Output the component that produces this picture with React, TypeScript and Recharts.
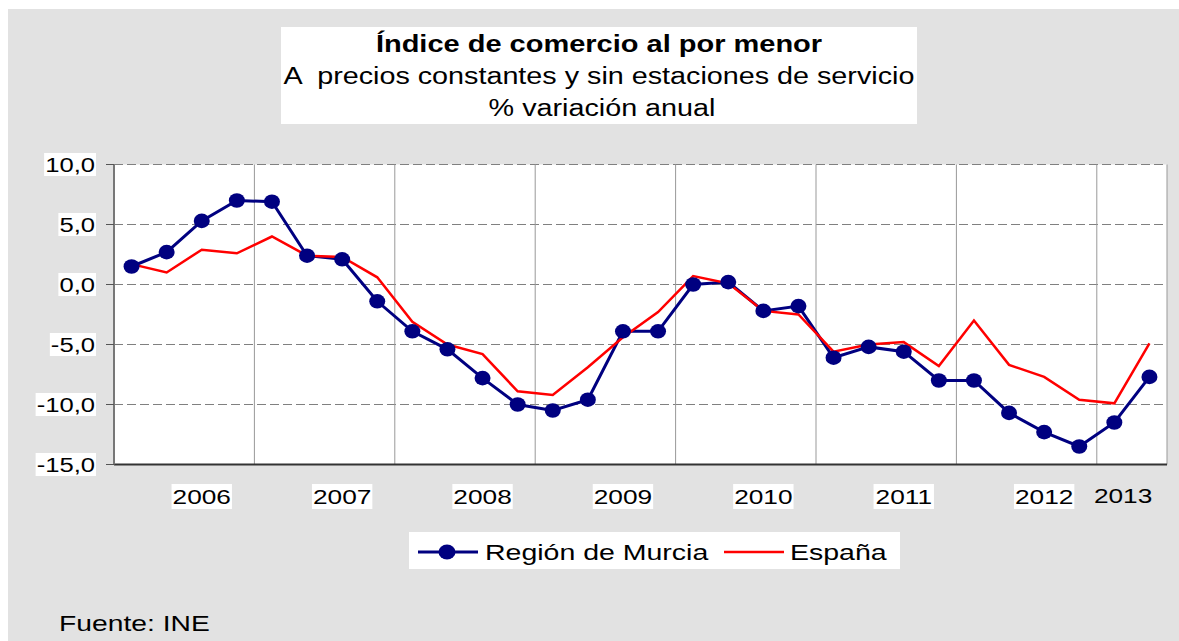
import React from "react";
import { CartesianGrid, Line, LineChart, XAxis, YAxis } from "recharts";

// quarterly series, 2006-I .. 2013-II
const years = ["2006", "2007", "2008", "2009", "2010", "2011", "2012", "2013"];
const quarterNames = ["I", "II", "III", "IV"];
const quarters = years.flatMap((y) => quarterNames.map((q) => `${y}-${q}`)).slice(0, 30);

const murcia = [
    1.5, 2.7, 5.3, 7.0, 6.9, 2.4, 2.1, -1.4, -3.9, -5.4, -7.8, -10.0, -10.5, -9.6, -3.9,
    -3.9, 0.0, 0.2, -2.2, -1.8, -6.1, -5.2, -5.6, -8.0, -8.0, -10.7, -12.3, -13.5, -11.5, -7.7,
];
const espana = [
    1.7, 1.0, 2.9, 2.6, 4.0, 2.4, 2.3, 0.6, -3.1, -5.0, -5.8, -8.9, -9.2, -6.9, -4.4,
    -2.3, 0.7, 0.1, -2.2, -2.5, -5.6, -5.0, -4.8, -6.8, -3.0, -6.7, -7.7, -9.6, -9.9, -4.9,
];

const yTicks = [-15, -10, -5, 0, 5, 10];
// year labels sit on the third quarter of each year (2013 only has two quarters)
const yearTicks = [2.5, 6.5, 10.5, 14.5, 18.5, 22.5, 26.5, 28.75];
const yearBreaks = [4, 8, 12, 16, 20, 24, 28];

const rows = quarters.map((q, i) => ({
    q,
    x: i + 0.5,
    murcia: murcia[i],
    espana: espana[i],
}));

const FONT = '"Liberation Sans", Arial, sans-serif';
const SX = 1.25; // the original picture is stretched sideways
const NAVY = "#000080";
const RED = "#ff0000";

const charW: Record<string, number> = { ",": 0.278, "-": 0.333 };
const textWidth = (s: string, size: number) =>
    s.split("").reduce((a, c) => a + (charW[c] ?? 0.556), 0) * size * SX;

const fmt = (v: number) => v.toFixed(1).replace(".", ",");

function YTick({ x, y, payload }: any) {
    const label = fmt(payload.value);
    const size = 20.5;
    const w = textWidth(label, size);
    const right = x - 9;
    return (
        <g>
            <rect x={right - w - 1} y={y - 11.5} width={w + 2} height={23} fill="#fff" />
            <text
                transform={`translate(${right},${y + 7.3}) scale(${SX},1)`}
                textAnchor="end"
                fontSize={size}
                fontFamily={FONT}
                fill="#000"
            >
                {label}
            </text>
        </g>
    );
}

function XTick({ x, y, payload }: any) {
    const i = yearTicks.indexOf(payload.value);
    const label = years[i] ?? "";
    const size = 21;
    const w = textWidth(label, size);
    const last = i === years.length - 1;
    const base = y + (last ? 38.2 : 39.5);
    return (
        <g>
            {!last && <rect x={x - w / 2 - 1} y={base - 20} width={w + 2} height={25} fill="#fff" />}
            <text
                transform={`translate(${x},${base}) scale(${SX},1)`}
                textAnchor="middle"
                fontSize={size}
                fontFamily={FONT}
                fill="#000"
            >
                {label}
            </text>
        </g>
    );
}

function Dot(p: any) {
    if (p.cx == null || p.cy == null) return <g key={p.index} />;
    return <ellipse key={p.index} cx={p.cx} cy={p.cy} rx={8} ry={7.3} fill={NAVY} />;
}

function Txt({ x, y, size, anchor = "start", bold = false, children }: any) {
    return (
        <text
            transform={`translate(${x},${y}) scale(${SX},1)`}
            textAnchor={anchor}
            fontSize={size}
            fontWeight={bold ? "bold" : "normal"}
            fontFamily={FONT}
            fill="#000"
            style={{ whiteSpace: "pre" }}
        >
            {children}
        </text>
    );
}

export default function App() {
    return (
        <div
            style={{
                position: "fixed",
                left: 0,
                top: 0,
                width: 1179,
                height: 641,
                background: "#fff",
                overflow: "hidden",
            }}
        >
            <div
                style={{
                    position: "absolute",
                    left: 8,
                    top: 9,
                    width: 1171,
                    height: 632,
                    background: "#e2e2e2",
                }}
            />
            <div style={{ position: "absolute", left: 0, top: 0 }}>
                <LineChart
                    width={1179}
                    height={641}
                    data={rows}
                    margin={{ top: 164.5, right: 12, bottom: 126.5, left: 0 }}
                >
                    <CartesianGrid
                        vertical={false}
                        fill="#fff"
                        stroke="#808080"
                        strokeDasharray="9 4"
                    />
                    <CartesianGrid
                        xAxisId="years"
                        horizontal={false}
                        stroke="#999"
                    />
                    <XAxis
                        xAxisId="years"
                        type="number"
                        dataKey="x"
                        domain={[0, 30]}
                        ticks={yearBreaks}
                        hide
                    />
                    <XAxis
                        type="number"
                        dataKey="x"
                        domain={[0, 30]}
                        ticks={yearTicks}
                        interval={0}
                        tick={<XTick />}
                        tickLine={false}
                        tickSize={0}
                        tickMargin={0}
                        height={50}
                        axisLine={{ stroke: "#333", strokeWidth: 2 }}
                    />
                    <YAxis
                        domain={[-15, 10]}
                        ticks={yTicks}
                        interval={0}
                        width={114}
                        tick={<YTick />}
                        tickSize={8}
                        tickMargin={2}
                        tickLine={{ stroke: "#555" }}
                        axisLine={{ stroke: "#777", strokeWidth: 2 }}
                    />
                    <Line
                        dataKey="murcia"
                        stroke={NAVY}
                        strokeWidth={3}
                        dot={Dot}
                        activeDot={false}
                        isAnimationActive={false}
                    />
                    <Line
                        dataKey="espana"
                        stroke={RED}
                        strokeWidth={2.5}
                        dot={false}
                        activeDot={false}
                        isAnimationActive={false}
                    />
                </LineChart>
            </div>
            <svg
                width={1179}
                height={641}
                style={{ position: "absolute", left: 0, top: 0, pointerEvents: "none" }}
            >
                <rect x={281} y={27} width={636} height={97} fill="#fff" />
                <Txt x={599} y={52} size={23.2} anchor="middle" bold>
                    Índice de comercio al por menor
                </Txt>
                <Txt x={599} y={84} size={23} anchor="middle">
                    {"A  precios constantes y sin estaciones de servicio"}
                </Txt>
                <Txt x={602} y={115.5} size={23} anchor="middle">
                    % variación anual
                </Txt>

                <rect x={409} y={532} width={491} height={37} fill="#fff" />
                <line x1={418} y1={552} x2={478} y2={552} stroke={NAVY} strokeWidth={3} />
                <ellipse cx={447} cy={552} rx={8.5} ry={7.5} fill={NAVY} />
                <Txt x={485} y={560} size={22.8}>
                    Región de Murcia
                </Txt>
                <line x1={724} y1={552} x2={784} y2={552} stroke={RED} strokeWidth={2.5} />
                <Txt x={790} y={560} size={22.8}>
                    España
                </Txt>

                <Txt x={59} y={630.5} size={22.6}>
                    Fuente: INE
                </Txt>
            </svg>
        </div>
    );
}
